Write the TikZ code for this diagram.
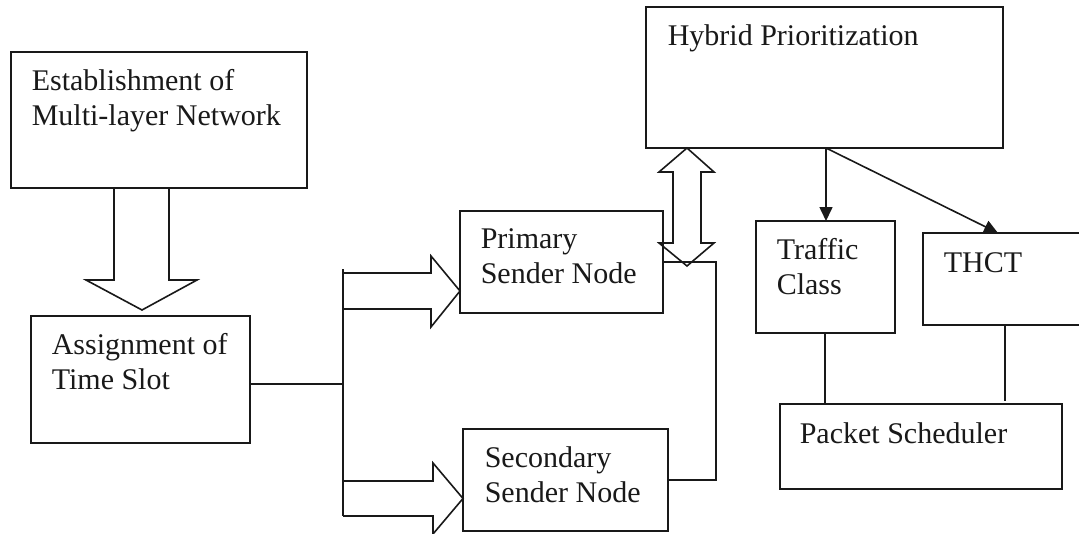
\documentclass[tikz,border=0pt]{standalone}
\usepackage{fontspec}
\setmainfont{Liberation Serif}
\usetikzlibrary{calc,arrows.meta}
\begin{document}
\begin{tikzpicture}[x=1pt,y=-1pt, line width=1.6pt, color={black!90},
  box/.style={draw, rectangle, inner sep=0pt, outer sep=0pt, anchor=north west},
  txt/.style={anchor=north west, inner sep=0pt, align=left, text=black!90, font=\fontsize{30}{35}\selectfont},
  tipline/.style={draw, -{Triangle[length=14pt,width=13pt]}},
  blockarrow/.style={draw, line join=miter}]
\useasboundingbox (0,0) rectangle (1079,533);
% boxes
\node[box, minimum width=296pt, minimum height=136pt] (est) at (11,52) {};
\node[box, minimum width=219pt, minimum height=127pt] (asg) at (31,316) {};
\node[box, minimum width=203pt, minimum height=102pt] (prim) at (460,211) {};
\node[box, minimum width=205pt, minimum height=102pt] (sec) at (463,429) {};
\node[box, minimum width=357pt, minimum height=141pt] (hyb) at (646,7) {};
\node[box, minimum width=139pt, minimum height=112pt] (traf) at (756,221) {};
\node[box, minimum width=165pt, minimum height=92pt] (thct) at (923,233) {};
\node[box, minimum width=282pt, minimum height=85pt] (pkt) at (780,404) {};
% texts
\node[txt] (testt) at ($(est.north west)+(20,13.5)$) {\strut Establishment of\\Multi-layer Network};
\node[txt] (tasg) at ($(asg.north west)+(20,13.5)$) {\strut Assignment of\\Time Slot};
\node[txt] (tprim) at ($(prim.north west)+(20,12)$) {\strut Primary\\Sender Node};
\node[txt] (tsec) at ($(sec.north west)+(21,13.5)$) {\strut Secondary\\Sender Node};
\node[txt] (thyb) at ($(hyb.north west)+(21,13.5)$) {\strut Hybrid Prioritization};
\node[txt] (ttraf) at ($(traf.north west)+(20,13.5)$) {\strut Traffic\\Class};
\node[txt] (tthct) at ($(thct.north west)+(20,14.5)$) {\strut THCT};
\node[txt] (tpkt) at ($(pkt.north west)+(19,14.5)$) {\strut Packet Scheduler};
% block arrow establishment -> assignment
\draw[blockarrow] (114,188) -- (114,280) -- (86,280) -- (142,310) -- (197,280) -- (169,280) -- (169,188);
% split line
\coordinate (split) at (343,384);
\draw (asg.east |- split) -- (split);
\draw (343,269) -- (343,516);
% block arrows to sender nodes
\draw[blockarrow] (343,273) -- (431,273) -- (431,256) -- (prim.west |- 0,291) -- (431,327) -- (431,309) -- (343,309);
\draw[blockarrow] (343,481) -- (433,481) -- (433,463) -- (sec.west |- 0,498.5) -- (433,534) -- (433,516) -- (343,516);
% double block arrow
\draw[blockarrow] (687,148) -- (714,172) -- (701,172) -- (701,243) -- (714,243) -- (687,266) -- (659,243) -- (673,243) -- (673,172) -- (659,172) -- cycle;
% feedback connector
\draw (sec.east) -| ($(prim.east)+(53,0)$) -- (prim.east);
% hybrid to traffic / thct
\coordinate (hsrc) at (826,148);
\draw[tipline] (hsrc) -- (hsrc |- traf.north);
\draw[tipline] (hsrc) -- (998,233);
% to packet scheduler
\draw (traf.south -| 825,0) -- (pkt.north -| 825,0);
\draw (thct.south -| 1005,0) -- (1005,401);
\end{tikzpicture}
\end{document}
